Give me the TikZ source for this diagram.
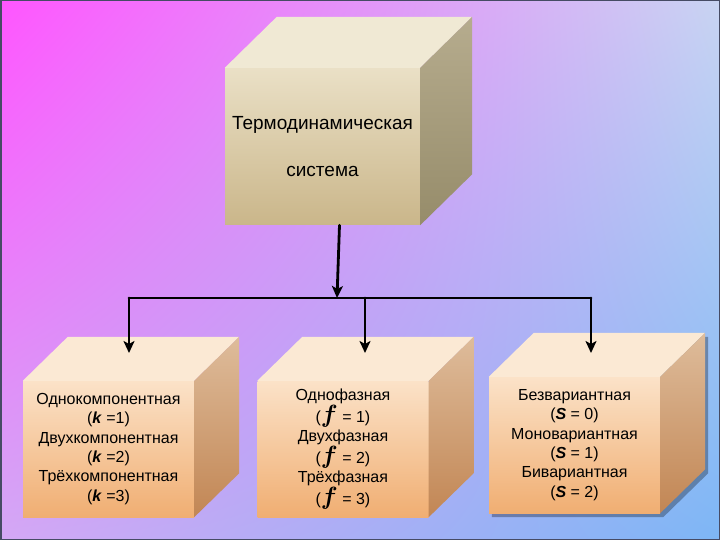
\documentclass[tikz,border=0pt]{standalone}
\usepackage{fontspec}
\setmainfont{Liberation Sans}
\usepackage{amsmath}
\usetikzlibrary{arrows.meta,calc,backgrounds,shadings}

\definecolor{bgTL}{RGB}{255,85,255}
\definecolor{bgTR}{RGB}{200,212,242}
\definecolor{bgBL}{RGB}{212,168,245}
\definecolor{bgBR}{RGB}{125,182,245}
\definecolor{frame}{RGB}{70,75,100}
\definecolor{sysT}{RGB}{234,224,198}
\definecolor{sysB}{RGB}{202,182,138}
\definecolor{sysTop}{RGB}{240,233,212}
\definecolor{sysSideT}{RGB}{182,172,142}
\definecolor{sysSideB}{RGB}{150,140,106}
\definecolor{boxT}{RGB}{251,226,200}
\definecolor{boxB}{RGB}{240,174,114}
\definecolor{boxTop}{RGB}{251,233,212}
\definecolor{boxSideT}{RGB}{222,188,155}
\definecolor{boxSideB}{RGB}{194,134,84}

% top and right faces of a cube drawn behind its front node
\newcommand{\cubefaces}[4]{%
	\fill[#4Top] (#1.north west) -- ++(#2,-#3) -- ($(#1.north east)+(#2,-#3)$) -- (#1.north east) -- cycle;
	\shade[top color=#4SideT, bottom color=#4SideB] (#1.north east) -- ++(#2,-#3) -- ($(#1.south east)+(#2,-#3)$) -- (#1.south east) -- cycle;
}
\newcommand{\phasef}{{\fontsize{23}{19}\selectfont$\boldsymbol{f}$}}
\newcommand{\bi}[1]{\textbf{\textit{#1}}}

\begin{document}
\begin{tikzpicture}
	[
	x=1pt, y=-1pt,
	front/.style={inner sep=0pt, align=center, minimum width=171pt, minimum height=136pt,
		top color=boxT, bottom color=boxB, font=\fontsize{16}{19.3}\selectfont},
	line/.style={line width=2.8pt, line cap=round},
	arr/.style={line, -{Stealth[length=12pt, width=11pt, inset=3pt]}},
	]
		\useasboundingbox (0,0) rectangle (720,540);
		
		% system
		\node[front, minimum width=195pt, minimum height=157pt, top color=sysT, bottom color=sysB,
			font=\fontsize{19}{47}\selectfont] (sys) at (322.5,146.5) {Термодинамическая\\система};
		\cubefaces{sys}{52}{51}{sys}
		
		% kinds of system
		\node[front] (comp)  at (108.5,449) {Однокомпонентная\\(\bi{k} =1)\\Двухкомпонентная\\(\bi{k} =2)\\Трёхкомпонентная\\(\bi{k} =3)};
		\node[front] (phase) at (343.0,449) {Однофазная\\(\phasef\ = 1)\\Двухфазная\\(\phasef\ = 2)\\Трёхфазная\\(\phasef\ = 3)};
		\node[front] (var)   at (574.5,445) {Безвариантная\\(\bi{S} = 0)\\Моновариантная\\(\bi{S} = 1)\\Бивариантная\\(\bi{S} = 2)};
		\foreach \n in {comp,phase,var} {\cubefaces{\n}{45}{44}{box}}
		
		% connectors
		\coordinate (hub) at (337,298);
		\coordinate (comp-in)  at (129,353);
		\coordinate (phase-in) at (365,353);
		\coordinate (var-in)   at (591,353);
		\draw[arr] ([xshift=17pt]sys.south) -- (hub);
		\draw[line] (hub-|comp-in) -- (hub-|var-in);
		\foreach \n in {comp,phase,var} \draw[arr] (hub-|\n-in) -- (\n-in);
		
		% background and shadow
		\begin{scope}[on background layer]
			\shade[upper left=bgTL, upper right=bgTR, lower left=bgBL, lower right=bgBR] (0,0) rectangle (720,540);
			\fill[black, opacity=.3] ($(var.south west)+(3,4)$) -- ($(var.north west)+(3,4)$) -- ($(var.north west)+(48,-40)$)
				-- ($(var.north east)+(48,-40)$) -- ($(var.south east)+(48,-40)$) -- ($(var.south east)+(3,4)$) -- cycle;
		\end{scope}
		\draw[frame, line width=1.5pt] (0.75,0.75) rectangle (719.25,539.25);
		
	\end{tikzpicture}
\end{document}
